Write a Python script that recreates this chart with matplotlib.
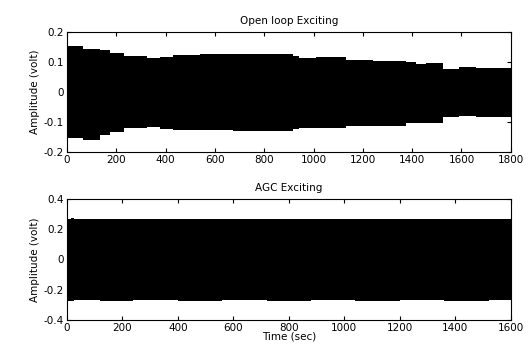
import numpy as np
import matplotlib.pyplot as plt

# envelope of the open loop excitation (step-wise)
ol_t = [0, 65, 135, 175, 230, 323, 377, 431, 540, 674, 800, 917, 940, 1010, 1130, 1240, 1375, 1415, 1455, 1525, 1590, 1660, 1800]
ol_hi = [0.152, 0.142, 0.139, 0.131, 0.121, 0.113, 0.116, 0.124, 0.126, 0.128, 0.128, 0.119, 0.114, 0.116, 0.108, 0.104, 0.099, 0.094, 0.098, 0.078, 0.082, 0.079, 0.079]
ol_lo = [-0.154, -0.160, -0.143, -0.132, -0.121, -0.116, -0.122, -0.126, -0.128, -0.129, -0.129, -0.124, -0.119, -0.119, -0.113, -0.113, -0.104, -0.104, -0.104, -0.082, -0.080, -0.084, -0.084]

# envelope of the AGC excitation
agc_t = [0, 15, 25, 120, 240, 400, 560, 720, 880, 1040, 1200, 1360, 1520, 1600]
agc_hi = [0.268, 0.274, 0.270, 0.268, 0.270, 0.268, 0.270, 0.268, 0.270, 0.268, 0.270, 0.268, 0.270, 0.270]
agc_lo = [-0.272, -0.276, -0.270, -0.272, -0.270, -0.272, -0.270, -0.272, -0.270, -0.272, -0.270, -0.272, -0.270, -0.270]

plt.rcParams["font.family"] = "DejaVu Sans"
plt.rcParams["font.size"] = 7.5

fig = plt.figure(figsize=(5.31, 3.49), dpi=100)

ax1 = fig.add_axes([0.126, 0.5645, 0.836, 0.344])
ax1.fill_between(ol_t, ol_lo, ol_hi, step="post", color="black", lw=0)
ax1.set_xlim(0, 1800)
ax1.set_ylim(-0.2, 0.2)
ax1.set_xticks(np.arange(0, 1801, 200))
ax1.set_yticks([-0.2, -0.1, 0, 0.1, 0.2])
ax1.set_yticklabels(["-0.2", "-0.1", "0", "0.1", "0.2"])
ax1.set_title("Open loop Exciting", fontsize=7.5, pad=6)
ax1.set_ylabel("Amplitude (volt)", fontsize=7.5, labelpad=3)

ax2 = fig.add_axes([0.126, 0.083, 0.836, 0.347])
ax2.fill_between(agc_t, agc_lo, agc_hi, step="post", color="black", lw=0)
ax2.set_xlim(0, 1600)
ax2.set_ylim(-0.4, 0.4)
ax2.set_xticks(np.arange(0, 1601, 200))
ax2.set_yticks([-0.4, -0.2, 0, 0.2, 0.4])
ax2.set_yticklabels(["-0.4", "-0.2", "0", "0.2", "0.4"])
ax2.set_title("AGC Exciting", fontsize=7.5, pad=6)
ax2.set_ylabel("Amplitude (volt)", fontsize=7.5, labelpad=3)
ax2.set_xlabel("Time (sec)", fontsize=7.5, labelpad=-1)

for ax in (ax1, ax2):
    ax.tick_params(direction="in", top=True, right=True, length=3, width=0.8, labelsize=7.5, pad=2)
    for s in ax.spines.values():
        s.set_linewidth(0.8)

fig.savefig("out.png", dpi=100)
